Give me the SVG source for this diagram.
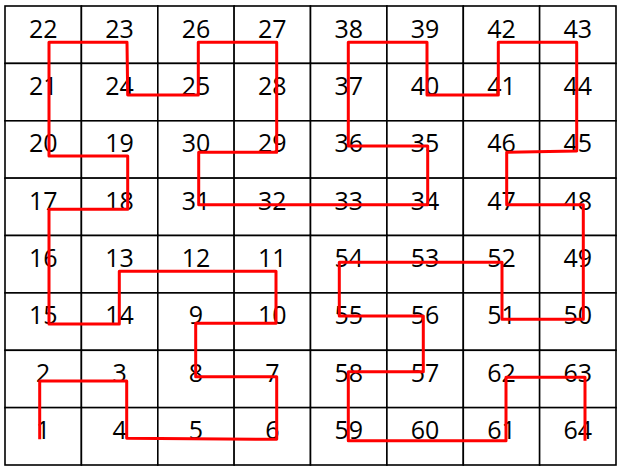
<svg xmlns="http://www.w3.org/2000/svg" width="622" height="471" viewBox="0 0 622 471">
<style>
.cell{fill:#fff;stroke:#000;stroke-width:1.6}
.lbl{font-family:"Open Sans","Liberation Sans",sans-serif;font-size:25px;fill:#000;text-anchor:middle}
.path{fill:none;stroke:#ff0000;stroke-width:3;stroke-linejoin:round}
</style>
<rect width="622" height="471" fill="#fff"/>
<g id="grid">
<g id="c22"><rect class="cell" x="5" y="6" width="76.4" height="57.4"/><text class="lbl" x="43.2" y="37.5">22</text></g>
<g id="c23"><rect class="cell" x="81.4" y="6" width="76.4" height="57.4"/><text class="lbl" x="119.6" y="37.5">23</text></g>
<g id="c26"><rect class="cell" x="157.8" y="6" width="76.4" height="57.4"/><text class="lbl" x="196" y="37.5">26</text></g>
<g id="c27"><rect class="cell" x="234.1" y="6" width="76.4" height="57.4"/><text class="lbl" x="272.3" y="37.5">27</text></g>
<g id="c38"><rect class="cell" x="310.5" y="6" width="76.4" height="57.4"/><text class="lbl" x="348.7" y="37.5">38</text></g>
<g id="c39"><rect class="cell" x="386.9" y="6" width="76.4" height="57.4"/><text class="lbl" x="425.1" y="37.5">39</text></g>
<g id="c42"><rect class="cell" x="463.3" y="6" width="76.4" height="57.4"/><text class="lbl" x="501.5" y="37.5">42</text></g>
<g id="c43"><rect class="cell" x="539.6" y="6" width="76.4" height="57.4"/><text class="lbl" x="577.8" y="37.5">43</text></g>

<g id="c21"><rect class="cell" x="5" y="63.4" width="76.4" height="57.4"/><text class="lbl" x="43.2" y="94.9">21</text></g>
<g id="c24"><rect class="cell" x="81.4" y="63.4" width="76.4" height="57.4"/><text class="lbl" x="119.6" y="94.9">24</text></g>
<g id="c25"><rect class="cell" x="157.8" y="63.4" width="76.4" height="57.4"/><text class="lbl" x="196" y="94.9">25</text></g>
<g id="c28"><rect class="cell" x="234.1" y="63.4" width="76.4" height="57.4"/><text class="lbl" x="272.3" y="94.9">28</text></g>
<g id="c37"><rect class="cell" x="310.5" y="63.4" width="76.4" height="57.4"/><text class="lbl" x="348.7" y="94.9">37</text></g>
<g id="c40"><rect class="cell" x="386.9" y="63.4" width="76.4" height="57.4"/><text class="lbl" x="425.1" y="94.9">40</text></g>
<g id="c41"><rect class="cell" x="463.3" y="63.4" width="76.4" height="57.4"/><text class="lbl" x="501.5" y="94.9">41</text></g>
<g id="c44"><rect class="cell" x="539.6" y="63.4" width="76.4" height="57.4"/><text class="lbl" x="577.8" y="94.9">44</text></g>

<g id="c20"><rect class="cell" x="5" y="120.8" width="76.4" height="57.4"/><text class="lbl" x="43.2" y="152.3">20</text></g>
<g id="c19"><rect class="cell" x="81.4" y="120.8" width="76.4" height="57.4"/><text class="lbl" x="119.6" y="152.3">19</text></g>
<g id="c30"><rect class="cell" x="157.8" y="120.8" width="76.4" height="57.4"/><text class="lbl" x="196" y="152.3">30</text></g>
<g id="c29"><rect class="cell" x="234.1" y="120.8" width="76.4" height="57.4"/><text class="lbl" x="272.3" y="152.3">29</text></g>
<g id="c36"><rect class="cell" x="310.5" y="120.8" width="76.4" height="57.4"/><text class="lbl" x="348.7" y="152.3">36</text></g>
<g id="c35"><rect class="cell" x="386.9" y="120.8" width="76.4" height="57.4"/><text class="lbl" x="425.1" y="152.3">35</text></g>
<g id="c46"><rect class="cell" x="463.3" y="120.8" width="76.4" height="57.4"/><text class="lbl" x="501.5" y="152.3">46</text></g>
<g id="c45"><rect class="cell" x="539.6" y="120.8" width="76.4" height="57.4"/><text class="lbl" x="577.8" y="152.3">45</text></g>

<g id="c17"><rect class="cell" x="5" y="178.1" width="76.4" height="57.4"/><text class="lbl" x="43.2" y="209.6">17</text></g>
<g id="c18"><rect class="cell" x="81.4" y="178.1" width="76.4" height="57.4"/><text class="lbl" x="119.6" y="209.6">18</text></g>
<g id="c31"><rect class="cell" x="157.8" y="178.1" width="76.4" height="57.4"/><text class="lbl" x="196" y="209.6">31</text></g>
<g id="c32"><rect class="cell" x="234.1" y="178.1" width="76.4" height="57.4"/><text class="lbl" x="272.3" y="209.6">32</text></g>
<g id="c33"><rect class="cell" x="310.5" y="178.1" width="76.4" height="57.4"/><text class="lbl" x="348.7" y="209.6">33</text></g>
<g id="c34"><rect class="cell" x="386.9" y="178.1" width="76.4" height="57.4"/><text class="lbl" x="425.1" y="209.6">34</text></g>
<g id="c47"><rect class="cell" x="463.3" y="178.1" width="76.4" height="57.4"/><text class="lbl" x="501.5" y="209.6">47</text></g>
<g id="c48"><rect class="cell" x="539.6" y="178.1" width="76.4" height="57.4"/><text class="lbl" x="577.8" y="209.6">48</text></g>

<g id="c16"><rect class="cell" x="5" y="235.5" width="76.4" height="57.4"/><text class="lbl" x="43.2" y="267">16</text></g>
<g id="c13"><rect class="cell" x="81.4" y="235.5" width="76.4" height="57.4"/><text class="lbl" x="119.6" y="267">13</text></g>
<g id="c12"><rect class="cell" x="157.8" y="235.5" width="76.4" height="57.4"/><text class="lbl" x="196" y="267">12</text></g>
<g id="c11"><rect class="cell" x="234.1" y="235.5" width="76.4" height="57.4"/><text class="lbl" x="272.3" y="267">11</text></g>
<g id="c54"><rect class="cell" x="310.5" y="235.5" width="76.4" height="57.4"/><text class="lbl" x="348.7" y="267">54</text></g>
<g id="c53"><rect class="cell" x="386.9" y="235.5" width="76.4" height="57.4"/><text class="lbl" x="425.1" y="267">53</text></g>
<g id="c52"><rect class="cell" x="463.3" y="235.5" width="76.4" height="57.4"/><text class="lbl" x="501.5" y="267">52</text></g>
<g id="c49"><rect class="cell" x="539.6" y="235.5" width="76.4" height="57.4"/><text class="lbl" x="577.8" y="267">49</text></g>

<g id="c15"><rect class="cell" x="5" y="292.9" width="76.4" height="57.4"/><text class="lbl" x="43.2" y="324.4">15</text></g>
<g id="c14"><rect class="cell" x="81.4" y="292.9" width="76.4" height="57.4"/><text class="lbl" x="119.6" y="324.4">14</text></g>
<g id="c9"><rect class="cell" x="157.8" y="292.9" width="76.4" height="57.4"/><text class="lbl" x="196" y="324.4">9</text></g>
<g id="c10"><rect class="cell" x="234.1" y="292.9" width="76.4" height="57.4"/><text class="lbl" x="272.3" y="324.4">10</text></g>
<g id="c55"><rect class="cell" x="310.5" y="292.9" width="76.4" height="57.4"/><text class="lbl" x="348.7" y="324.4">55</text></g>
<g id="c56"><rect class="cell" x="386.9" y="292.9" width="76.4" height="57.4"/><text class="lbl" x="425.1" y="324.4">56</text></g>
<g id="c51"><rect class="cell" x="463.3" y="292.9" width="76.4" height="57.4"/><text class="lbl" x="501.5" y="324.4">51</text></g>
<g id="c50"><rect class="cell" x="539.6" y="292.9" width="76.4" height="57.4"/><text class="lbl" x="577.8" y="324.4">50</text></g>

<g id="c2"><rect class="cell" x="5" y="350.3" width="76.4" height="57.4"/><text class="lbl" x="43.2" y="381.8">2</text></g>
<g id="c3"><rect class="cell" x="81.4" y="350.3" width="76.4" height="57.4"/><text class="lbl" x="119.6" y="381.8">3</text></g>
<g id="c8"><rect class="cell" x="157.8" y="350.3" width="76.4" height="57.4"/><text class="lbl" x="196" y="381.8">8</text></g>
<g id="c7"><rect class="cell" x="234.1" y="350.3" width="76.4" height="57.4"/><text class="lbl" x="272.3" y="381.8">7</text></g>
<g id="c58"><rect class="cell" x="310.5" y="350.3" width="76.4" height="57.4"/><text class="lbl" x="348.7" y="381.8">58</text></g>
<g id="c57"><rect class="cell" x="386.9" y="350.3" width="76.4" height="57.4"/><text class="lbl" x="425.1" y="381.8">57</text></g>
<g id="c62"><rect class="cell" x="463.3" y="350.3" width="76.4" height="57.4"/><text class="lbl" x="501.5" y="381.8">62</text></g>
<g id="c63"><rect class="cell" x="539.6" y="350.3" width="76.4" height="57.4"/><text class="lbl" x="577.8" y="381.8">63</text></g>

<g id="c1"><rect class="cell" x="5" y="407.6" width="76.4" height="57.4"/><text class="lbl" x="43.2" y="439.1">1</text></g>
<g id="c4"><rect class="cell" x="81.4" y="407.6" width="76.4" height="57.4"/><text class="lbl" x="119.6" y="439.1">4</text></g>
<g id="c5"><rect class="cell" x="157.8" y="407.6" width="76.4" height="57.4"/><text class="lbl" x="196" y="439.1">5</text></g>
<g id="c6"><rect class="cell" x="234.1" y="407.6" width="76.4" height="57.4"/><text class="lbl" x="272.3" y="439.1">6</text></g>
<g id="c59"><rect class="cell" x="310.5" y="407.6" width="76.4" height="57.4"/><text class="lbl" x="348.7" y="439.1">59</text></g>
<g id="c60"><rect class="cell" x="386.9" y="407.6" width="76.4" height="57.4"/><text class="lbl" x="425.1" y="439.1">60</text></g>
<g id="c61"><rect class="cell" x="463.3" y="407.6" width="76.4" height="57.4"/><text class="lbl" x="501.5" y="439.1">61</text></g>
<g id="c64"><rect class="cell" x="539.6" y="407.6" width="76.4" height="57.4"/><text class="lbl" x="577.8" y="439.1">64</text></g>
</g>
<g id="connectors">
<polyline class="path" points="39.7,439.3 39.7,381 126.7,381 126.7,438.3 276.7,439.3 276.7,376.7 195.7,376.7 195.7,323.3 276,323.3 276,271.3 119.3,271.3 119.3,324 49,324 49,209.3 127.7,209.3 127.7,156 49,156 49,42.3 127,42.3 127.7,95 198.3,95 198.3,42.3 276.7,42.3 276.7,152.3 198.7,152.3 198.7,204.7 427.7,204.7 427.7,146 348.3,146 348.3,42.3 427,42.3 427,95 498.3,95 498.3,42.3 576.7,42.3 576.7,151 506.7,152.3 506.7,204.7 583.3,204.7 583.3,319.3 502,319.3 502,262.3 339.3,262.3 339.3,316 423.3,316 423.3,371.7 348.3,371.7 348.3,440.7 506,440.7 506,377.3 585,377.3 585,440.7"/>
</g>
</svg>
